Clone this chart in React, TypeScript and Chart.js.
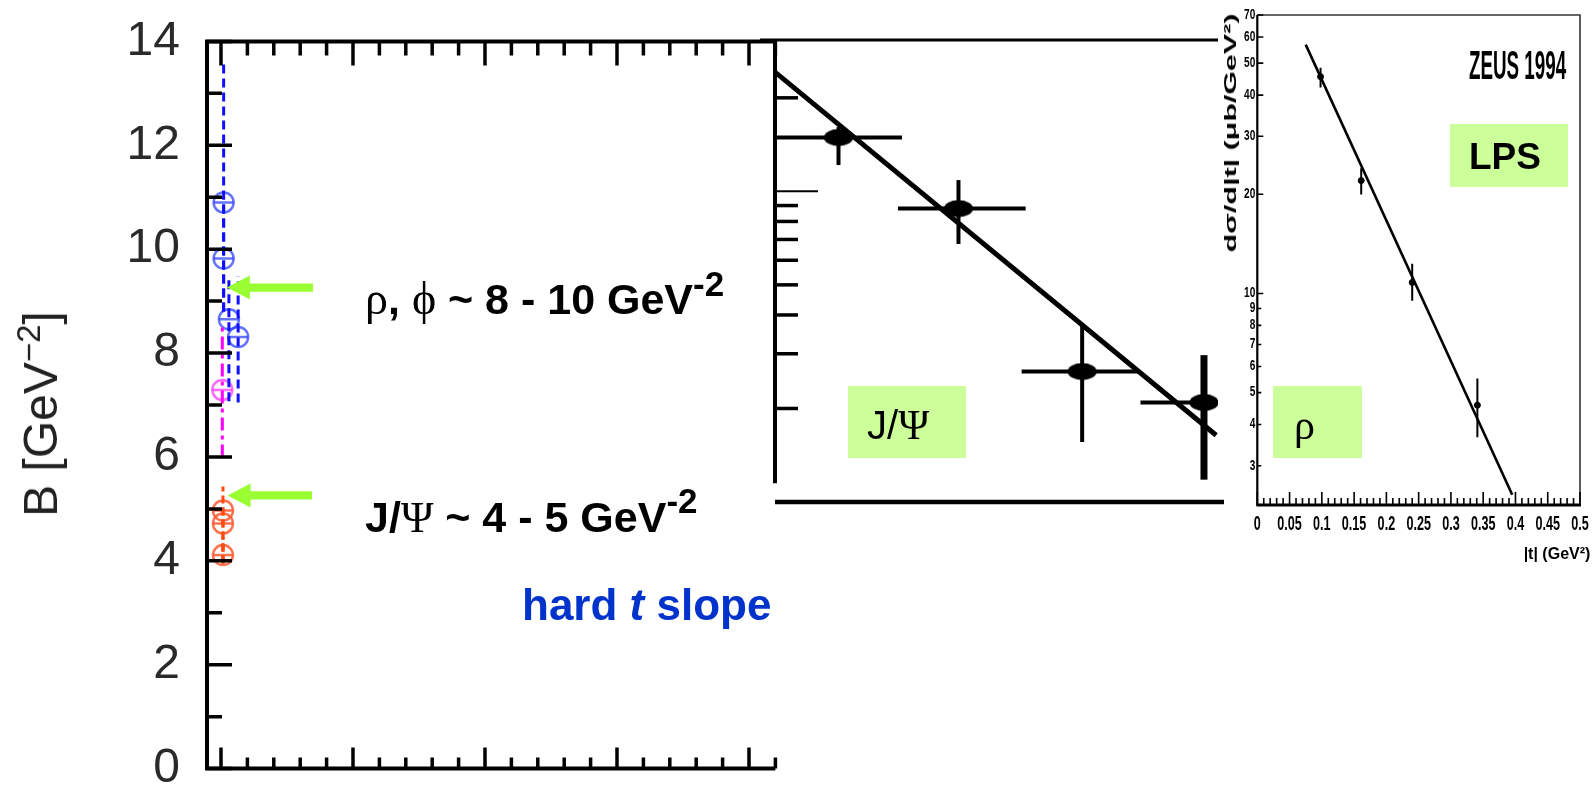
import React, { useEffect, useRef } from "react";
import { Chart, registerables } from "chart.js";

Chart.register(...registerables);

// ---------------- main panel : slope B [GeV^-2] ----------------
const mainYTickValues = [0, 1, 2, 3, 4, 5, 6, 7, 8, 9, 10, 11, 12, 13, 14];
const mainYLabelValues = [0, 2, 4, 6, 8, 10, 12, 14];
const mainXTickValues = [0, 2, 4, 6, 8, 10, 12, 14, 16, 18, 20, 22, 24, 26, 28, 30, 32, 34, 36, 38, 40, 42];

// rho / phi (blue)
const rhoX = [0.2, 0.2, 0.6, 1.3];
const rhoB = [10.9, 9.82, 8.65, 8.31];
const rhoBLow = [8.8, 8.8, 7.07, 7.05];
const rhoBHigh = [13.6, 11.0, 9.48, 9.48];
// magenta point
const magX = [0.1];
const magB = [7.29];
const magBLow = [5.99];
const magBHigh = [8.59];
// J/Psi (red)
const psiX = [0.15, 0.15, 0.15];
const psiB = [4.97, 4.72, 4.11];
const psiBLow = [3.95, 3.95, 3.95];
const psiBHigh = [5.43, 5.1, 4.45];
// green arrows (data coordinates of the main panel)
const arrowTipX = [0.45, 0.5];
const arrowTipB = [9.26, 5.26];
const arrowTailX = [6.97, 6.9];

// ---------------- middle panel : J/Psi d sigma / dt ----------------
const jpsiT = [0.172, 0.497, 0.832, 1.162];
const jpsiTLow = [0.0, 0.333, 0.668, 0.99];
const jpsiTHigh = [0.344, 0.679, 0.985, 1.2];
const jpsiSigma = [14.9, 8.8, 2.63, 2.09];
const jpsiSigmaLow = [12.15, 6.77, 1.56, 1.18];
const jpsiSigmaHigh = [16.1, 10.87, 3.77, 2.97];
const jpsiFitT = [0, 1.195];
const jpsiFitSigma = [24.2, 1.64];
const jpsiAxisTicks = [2, 3, 4, 5, 6, 7, 8, 9, 10, 20];

// ---------------- right panel : ZEUS 1994 rho ----------------
const zeusT = [0.098, 0.161, 0.24, 0.341];
const zeusSigma = [45.5, 22.0, 10.8, 4.58];
const zeusSigmaLow = [42.2, 19.95, 9.5, 3.66];
const zeusSigmaHigh = [48.4, 24.0, 12.3, 5.52];
const zeusFitT = [0.075, 0.395];
const zeusFitSigma = [56.9, 2.45];
const zeusYTicks = [3, 4, 5, 6, 7, 8, 9, 10, 20, 30, 40, 50, 60, 70];
const zeusYLabels = ["3", "4", "5", "6", "7", "8", "9", "10", "20", "30", "40", "50", "60", "70"];
const zeusXLabelValues = [0, 0.05, 0.1, 0.15, 0.2, 0.25, 0.3, 0.35, 0.4, 0.45, 0.5];
const zeusXLabels = ["0", "0.05", "0.1", "0.15", "0.2", "0.25", "0.3", "0.35", "0.4", "0.45", "0.5"];

const SANS = "'Liberation Sans', Arial, Helvetica, sans-serif";
const SERIF = "'Liberation Serif', 'DejaVu Serif', 'Times New Roman', serif";

function errLine(x1: number, y1: number, x2: number, y2: number, color: string, width: number, dash: number[] = []) {
  return {
    data: [
      { x: x1, y: y1 },
      { x: x2, y: y2 },
    ],
    showLine: true,
    borderColor: color,
    borderWidth: width,
    borderDash: dash,
    pointRadius: 0,
    pointHoverRadius: 0,
    fill: false,
    tension: 0,
  };
}

function markers(xs: number[], ys: number[], color: string, style: any, radius: number, width: number, fillColor = "rgba(0,0,0,0)") {
  return {
    data: xs.map((x, i) => ({ x, y: ys[i] })),
    showLine: false,
    pointStyle: style,
    pointRadius: radius,
    pointHoverRadius: radius,
    pointBorderColor: color,
    borderColor: color,
    pointBorderWidth: width,
    pointBackgroundColor: fillColor,
    backgroundColor: fillColor,
  };
}

const mainDecor = {
  id: "mainDecor",
  afterDatasetsDraw(chart: any) {
    const { ctx, chartArea: a, scales } = chart;
    const x = scales.x;
    const y = scales.y;
    ctx.save();
    ctx.strokeStyle = "#000";
    ctx.lineWidth = 4;
    ctx.beginPath();
    ctx.moveTo(a.left, a.bottom + 2);
    ctx.lineTo(a.left, a.top - 2);
    ctx.moveTo(a.left - 2, a.top);
    ctx.lineTo(a.right, a.top);
    ctx.moveTo(a.left - 2, a.bottom);
    ctx.lineTo(a.right, a.bottom);
    ctx.stroke();
    ctx.lineWidth = 3.5;
    ctx.beginPath();
    mainYTickValues.forEach((v) => {
      const py = y.getPixelForValue(v);
      const len = v % 2 === 0 ? 25 : 15;
      ctx.moveTo(a.left, py);
      ctx.lineTo(a.left + len, py);
    });
    mainXTickValues.forEach((v) => {
      const px = x.getPixelForValue(v);
      const major = v % 10 === 0;
      ctx.moveTo(px, a.bottom);
      ctx.lineTo(px, a.bottom - (major ? 21 : 11));
      ctx.moveTo(px, a.top);
      ctx.lineTo(px, a.top + (major ? 24 : 14));
    });
    ctx.stroke();
    // arrows
    ctx.fillStyle = "#99ff33";
    arrowTipX.forEach((tx, i) => {
      const px = x.getPixelForValue(tx);
      const py = y.getPixelForValue(arrowTipB[i]);
      const tail = x.getPixelForValue(arrowTailX[i]);
      const head = 23;
      const hh = 12;
      const sh = 4.2;
      ctx.beginPath();
      ctx.moveTo(px, py);
      ctx.lineTo(px + head, py - hh);
      ctx.lineTo(px + head, py - sh);
      ctx.lineTo(tail, py - sh);
      ctx.lineTo(tail, py + sh);
      ctx.lineTo(px + head, py + sh);
      ctx.lineTo(px + head, py + hh);
      ctx.closePath();
      ctx.fill();
    });
    ctx.restore();
  },
};

const midDecor = {
  id: "midDecor",
  afterDatasetsDraw(chart: any) {
    const { ctx, chartArea: a, scales } = chart;
    const y = scales.y;
    ctx.save();
    ctx.strokeStyle = "#000";
    ctx.lineWidth = 4;
    ctx.beginPath();
    ctx.moveTo(a.left, a.top);
    ctx.lineTo(a.left, y.getPixelForValue(1.15));
    ctx.stroke();
    ctx.lineWidth = 3;
    ctx.beginPath();
    ctx.moveTo(0, a.top);
    ctx.lineTo(a.right, a.top);
    ctx.stroke();
    ctx.lineWidth = 4.5;
    ctx.beginPath();
    ctx.moveTo(a.left, a.bottom);
    ctx.lineTo(a.right + 6, a.bottom);
    ctx.stroke();
    jpsiAxisTicks.forEach((v) => {
      const py = y.getPixelForValue(v);
      ctx.lineWidth = v === 10 ? 2 : 3.5;
      ctx.beginPath();
      ctx.moveTo(a.left, py);
      ctx.lineTo(a.left + (v === 10 ? 43 : 23), py);
      ctx.stroke();
    });
    ctx.restore();
  },
};

const zeusDecor = {
  id: "zeusDecor",
  afterDatasetsDraw(chart: any) {
    const { ctx, chartArea: a, scales } = chart;
    const x = scales.x;
    const y = scales.y;
    ctx.save();
    ctx.strokeStyle = "#333";
    ctx.lineWidth = 1.6;
    ctx.beginPath();
    ctx.moveTo(a.left, a.top);
    ctx.lineTo(a.right, a.top);
    ctx.lineTo(a.right, a.bottom);
    ctx.stroke();
    ctx.strokeStyle = "#000";
    ctx.lineWidth = 2.2;
    ctx.beginPath();
    ctx.moveTo(a.left, a.top);
    ctx.lineTo(a.left, a.bottom);
    ctx.stroke();
    ctx.lineWidth = 3;
    ctx.beginPath();
    ctx.moveTo(a.left - 1, a.bottom);
    ctx.lineTo(a.right + 1, a.bottom);
    ctx.stroke();
    ctx.lineWidth = 1.6;
    ctx.beginPath();
    for (let i = 0; i <= 50; i++) {
      const px = x.getPixelForValue(i / 100);
      ctx.moveTo(px, a.bottom);
      ctx.lineTo(px, a.bottom - (i % 5 === 0 ? 13 : 7));
    }
    zeusYTicks.forEach((v) => {
      const py = y.getPixelForValue(v);
      ctx.moveTo(a.left, py);
      ctx.lineTo(a.left + (v % 10 === 0 ? 6 : 4), py);
    });
    ctx.stroke();
    ctx.fillStyle = "#000";
    ctx.font = `bold 21px ${SANS}`;
    ctx.textAlign = "center";
    ctx.textBaseline = "middle";
    zeusXLabelValues.forEach((v, i) => {
      ctx.save();
      ctx.translate(x.getPixelForValue(v), a.bottom + 19);
      ctx.scale(0.6, 1);
      ctx.fillText(zeusXLabels[i], 0, 0);
      ctx.restore();
    });
    ctx.font = `bold 14px ${SANS}`;
    ctx.textAlign = "right";
    zeusYTicks.forEach((v, i) => {
      ctx.save();
      ctx.translate(a.left - 2, y.getPixelForValue(v));
      ctx.scale(0.72, 1);
      ctx.fillText(zeusYLabels[i], 0, 0);
      ctx.restore();
    });
    ctx.restore();
  },
};

const baseOpts = {
  animation: false as const,
  responsive: false,
  maintainAspectRatio: false,
  events: [] as any[],
  plugins: { legend: { display: false }, tooltip: { enabled: false } },
};

function Txt(props: { x: number; base: number; size: number; bold?: boolean; color?: string; style?: any; children: any }) {
  const { x, base, size, bold, color, style, children } = props;
  return (
    <div
      style={{
        position: "absolute",
        left: x,
        top: base - 0.8465 * size,
        fontSize: size,
        lineHeight: `${size}px`,
        fontFamily: SANS,
        fontWeight: bold ? 700 : 400,
        color: color || "#000",
        whiteSpace: "nowrap",
        ...style,
      }}
    >
      {children}
    </div>
  );
}

function Sup(props: { size: number; raise: number; children: any }) {
  return (
    <span style={{ fontSize: props.size, position: "relative", top: -props.raise, lineHeight: 0 }}>{props.children}</span>
  );
}

export default function App() {
  const mainRef = useRef<HTMLCanvasElement>(null);
  const midRef = useRef<HTMLCanvasElement>(null);
  const zeusRef = useRef<HTMLCanvasElement>(null);

  useEffect(() => {
    document.body.style.margin = "0";
    const charts: Chart[] = [];

    // ---- main panel
    const blue = "#1010ff";
    const blueMk = "rgba(50,70,255,0.75)";
    const mag = "#ff00ff";
    const magMk = "rgba(255,60,255,0.75)";
    const red = "#ff4a10";
    const redMk = "rgba(255,90,50,0.85)";
    const mainDatasets: any[] = [];
    rhoX.forEach((xv, i) => mainDatasets.push(errLine(xv, rhoBLow[i], xv, rhoBHigh[i], blue, 3, [9, 5])));
    magX.forEach((xv, i) => mainDatasets.push(errLine(xv, magBLow[i], xv, magBHigh[i], mag, 3, [13, 5, 4, 5])));
    psiX.forEach((xv, i) => mainDatasets.push(errLine(xv, psiBLow[i], xv, psiBHigh[i], red, 3, [8, 4])));
    mainDatasets.push(markers(rhoX, rhoB, blueMk, "circle", 10, 2.5));
    mainDatasets.push(markers(rhoX, rhoB, blueMk, "line", 10, 2.5));
    mainDatasets.push(markers(magX, magB, magMk, "circle", 10, 2.5));
    mainDatasets.push(markers(magX, magB, magMk, "line", 10, 2.5));
    mainDatasets.push(markers(psiX, psiB, redMk, "circle", 10, 2.5));
    mainDatasets.push(markers(psiX, psiB, redMk, "line", 10, 2.5));

    if (mainRef.current) {
      charts.push(
        new Chart(mainRef.current, {
          type: "scatter",
          data: { datasets: mainDatasets },
          options: {
            ...baseOpts,
            layout: { padding: { left: 0, top: 39, right: 800 - 775.4, bottom: 18 } },
            scales: {
              x: { type: "linear", min: -1.06, max: 42, display: false },
              y: {
                type: "linear",
                min: 0,
                max: 14,
                afterFit: (s: any) => {
                  s.width = 207;
                },
                ticks: {
                  stepSize: 1,
                  autoSkip: false,
                  padding: 27,
                  color: "#2a2a2a",
                  font: { family: SANS, size: 48, lineHeight: 0.6 },
                  callback: (v: any) => (mainYLabelValues.includes(Number(v)) ? String(v) : ""),
                },
                grid: { display: false, drawTicks: false },
                border: { display: false },
              },
            },
          } as any,
          plugins: [mainDecor],
        })
      );
    }

    // ---- middle panel (J/Psi)
    const ell = document.createElement("canvas");
    ell.width = 30;
    ell.height = 18;
    const ec = ell.getContext("2d");
    if (ec) {
      ec.fillStyle = "#000";
      ec.beginPath();
      ec.ellipse(15, 9, 14.5, 8.5, 0, 0, Math.PI * 2);
      ec.fill();
    }
    const midDatasets: any[] = [];
    midDatasets.push(errLine(jpsiFitT[0], jpsiFitSigma[0], jpsiFitT[1], jpsiFitSigma[1], "#000", 5));
    jpsiT.forEach((tv, i) => {
      midDatasets.push(errLine(jpsiTLow[i], jpsiSigma[i], jpsiTHigh[i], jpsiSigma[i], "#000", 4));
      midDatasets.push(errLine(tv, jpsiSigmaLow[i], tv, jpsiSigmaHigh[i], "#000", i === 3 ? 7 : 4));
    });
    midDatasets.push(markers(jpsiT, jpsiSigma, "#000", ell, 12, 0, "#000"));
    if (midRef.current) {
      charts.push(
        new Chart(midRef.current, {
          type: "scatter",
          data: { datasets: midDatasets },
          options: {
            ...baseOpts,
            layout: { padding: { left: 15, top: 40, right: 8, bottom: 18 } },
            scales: {
              x: { type: "linear", min: 0, max: 1.2, display: false },
              y: { type: "logarithmic", min: 1, max: 30.7, display: false },
            },
          } as any,
          plugins: [midDecor],
        })
      );
    }

    // ---- ZEUS panel
    const zDatasets: any[] = [];
    zDatasets.push(errLine(zeusFitT[0], zeusFitSigma[0], zeusFitT[1], zeusFitSigma[1], "#000", 2.6));
    zeusT.forEach((tv, i) => {
      zDatasets.push(errLine(tv, zeusSigmaLow[i], tv, zeusSigmaHigh[i], "#000", 2));
    });
    zDatasets.push(markers(zeusT, zeusSigma, "#000", "circle", 3, 1, "#000"));
    if (zeusRef.current) {
      charts.push(
        new Chart(zeusRef.current, {
          type: "scatter",
          data: { datasets: zDatasets },
          options: {
            ...baseOpts,
            layout: { padding: { left: 27.3, top: 15, right: 12, bottom: 65 } },
            scales: {
              x: { type: "linear", min: 0, max: 0.5, display: false },
              y: { type: "logarithmic", min: 2.28, max: 70, display: false },
            },
          } as any,
          plugins: [zeusDecor],
        })
      );
    }

    return () => {
      charts.forEach((c) => c.destroy());
    };
  }, []);

  const box = (l: number, t: number, w: number, h: number) => ({
    position: "absolute" as const,
    left: l,
    top: t,
    width: w,
    height: h,
    background: "#ccff99",
  });
  const greek = { fontFamily: SERIF, fontWeight: 400 };

  return (
    <div style={{ position: "absolute", left: 0, top: 0, width: 1592, height: 810, background: "#fff", overflow: "hidden" }}>
      {/* green label boxes */}
      <div style={box(848, 386, 118, 72)} />
      <div style={box(1273, 386, 89, 72)} />
      <div style={box(1450, 124, 118, 63)} />

      <canvas ref={mainRef} width={800} height={810} style={{ position: "absolute", left: 0, top: 0, width: 800, height: 810 }} />
      <canvas ref={midRef} width={470} height={520} style={{ position: "absolute", left: 760, top: 0, width: 470, height: 520 }} />
      <canvas ref={zeusRef} width={362} height={570} style={{ position: "absolute", left: 1230, top: 0, width: 362, height: 570 }} />

      {/* main y-axis title */}
      <div
        style={{
          position: "absolute",
          left: 41,
          top: 414,
          transform: "translate(-50%, -50%) rotate(-90deg)",
          fontFamily: SANS,
          fontSize: 48,
          lineHeight: "48px",
          color: "#222",
          whiteSpace: "nowrap",
        }}
      >
        B [GeV<Sup size={33} raise={17}>−2</Sup>]
      </div>

      {/* annotations */}
      <Txt x={365} base={313} size={43} bold>
        <span style={{ ...greek, fontSize: 46 }}>ρ</span>, <span style={{ ...greek, fontSize: 46 }}>ϕ</span> ~ 8 - 10 GeV
        <Sup size={35} raise={18}>-2</Sup>
      </Txt>
      <Txt x={365} base={532} size={43} bold>
        J/<span style={{ ...greek, fontSize: 44 }}>Ψ</span> ~ 4 - 5 GeV
        <Sup size={35} raise={19}>-2</Sup>
      </Txt>
      <Txt x={522} base={620} size={44} bold color="#0033cc">
        hard <i>t</i> slope
      </Txt>

      {/* box labels */}
      <Txt x={867} base={439} size={40}>
        J/<span style={{ ...greek, fontSize: 42 }}>Ψ</span>
      </Txt>
      <Txt x={1294} base={440} size={42}>
        <span style={greek}>ρ</span>
      </Txt>
      <Txt x={1469} base={169} size={37} bold>
        LPS
      </Txt>

      {/* ZEUS texts */}
      <Txt x={1469} base={79} size={40} bold style={{ transform: "scaleX(0.47)", transformOrigin: "0 0" }}>
        ZEUS 1994
      </Txt>
      <div
        style={{
          position: "absolute",
          left: 1231,
          top: 133,
          transform: "translate(-50%, -50%) rotate(-90deg) scaleX(1.9)",
          fontFamily: SANS,
          fontWeight: 700,
          fontSize: 16,
          lineHeight: "16px",
          whiteSpace: "nowrap",
          color: "#000",
        }}
      >
        dσ/d|t| (μb/GeV²)
      </div>
      <div
        style={{
          position: "absolute",
          left: 1557,
          top: 554,
          transform: "translate(-50%, -50%)",
          fontFamily: SANS,
          fontWeight: 700,
          fontSize: 16,
          lineHeight: "16px",
          whiteSpace: "nowrap",
          color: "#000",
        }}
      >
        |t| (GeV²)
      </div>
    </div>
  );
}
